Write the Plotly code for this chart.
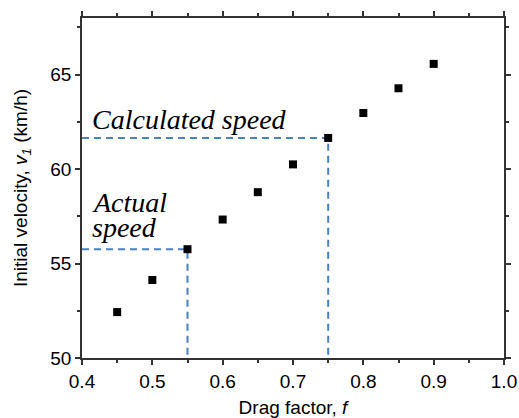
import plotly.graph_objects as go

drag_factor = [0.45, 0.50, 0.55, 0.60, 0.65, 0.70, 0.75, 0.80, 0.85, 0.90]
velocity = [52.43, 54.13, 55.76, 57.33, 58.78, 60.25, 61.65, 62.97, 64.28, 65.57]

actual_f = 0.55
actual_v = 55.76
calc_f = 0.75
calc_v = 61.65

x_range = [0.4, 1.0]
y_range = [50, 68]

line_color = "#4a80c8"
axis_color = "#333333"

fig = go.Figure()

for f, v in [(actual_f, actual_v), (calc_f, calc_v)]:
    fig.add_trace(go.Scatter(
        x=[x_range[0], f, f], y=[v, v, y_range[0]],
        mode="lines",
        line=dict(color=line_color, width=2, dash="7px,5px"),
        hoverinfo="skip", showlegend=False,
    ))

fig.add_trace(go.Scatter(
    x=drag_factor, y=velocity, mode="markers",
    marker=dict(symbol="square", size=8, color="black"),
    showlegend=False,
))

serif = "Liberation Serif"
ann_font = dict(family=serif, size=28, color="black")
fig.add_annotation(x=0.411, y=62.62, xref="x", yref="y", text="<i>Calculated speed</i>",
                   showarrow=False, xanchor="left", yanchor="middle", font=ann_font)
fig.add_annotation(x=0.411, y=58.25, xref="x", yref="y", text="<i>Actual</i>",
                   showarrow=False, xanchor="left", yanchor="middle", font=ann_font)
fig.add_annotation(x=0.411, y=56.9, xref="x", yref="y", text="<i>speed</i>",
                   showarrow=False, xanchor="left", yanchor="middle", font=ann_font)

sans = "Liberation Sans"
axis_common = dict(
    showline=True, linecolor=axis_color, linewidth=1.5,
    mirror="ticks", ticks="outside", ticklen=5, tickwidth=1.5, tickcolor=axis_color,
    showgrid=False, zeroline=False, automargin=False,
    tickfont=dict(family=sans, size=19, color="black"),
)

fig.update_xaxes(
    range=x_range, dtick=0.1, tick0=0.4, tickformat=".1f",
    minor=dict(dtick=0.05, ticks="outside", ticklen=3, tickwidth=1.5, tickcolor=axis_color),
    title=dict(text="Drag factor, <i>f</i>", standoff=10,
               font=dict(family=sans, size=19, color="black")),
    **axis_common,
)
fig.update_yaxes(
    range=y_range, dtick=5, tick0=50,
    minor=dict(dtick=2.5, ticks="outside", ticklen=3, tickwidth=1.5, tickcolor=axis_color),
    title=dict(text="Initial velocity, <i>v<sub>1</sub></i> (km/h)", standoff=18,
               font=dict(family=sans, size=19, color="black")),
    **axis_common,
)

fig.update_layout(
    width=519, height=418,
    margin=dict(l=82, r=15, t=18, b=60),
    paper_bgcolor="white", plot_bgcolor="white",
)

fig.write_html("out.html")
